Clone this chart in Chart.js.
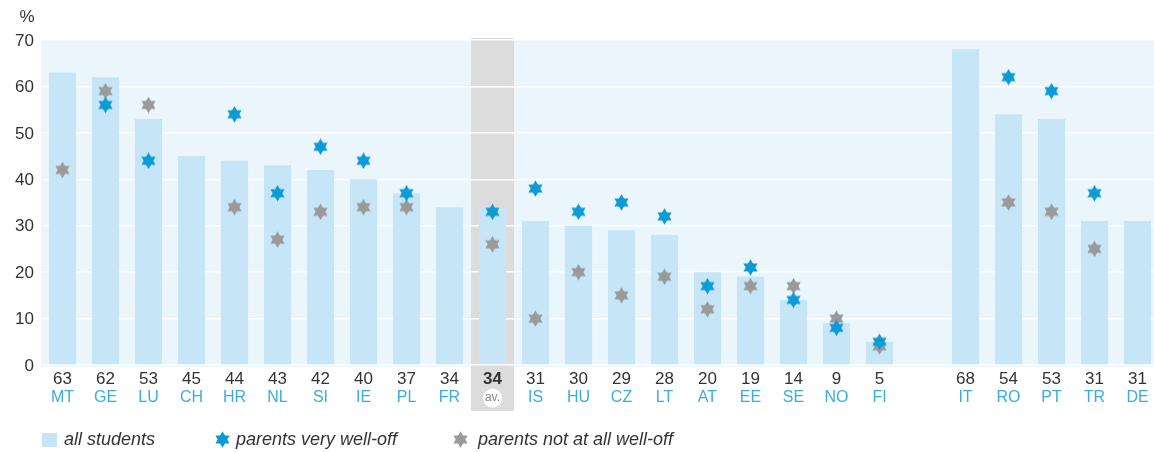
<!DOCTYPE html>
<html>
<head>
<meta charset="utf-8">
<script src="https://cdn.jsdelivr.net/npm/chart.js@4"></script>
<style>
  html, body { margin: 0; padding: 0; background: #fff; overflow: hidden; }
  #chart { display: block; }
</style>
</head>
<body>
<canvas id="chart" width="1164" height="452"></canvas>
<script>
const countries = ['MT', 'GE', 'LU', 'CH', 'HR', 'NL', 'SI', 'IE', 'PL', 'FR', 'av.', 'IS', 'HU', 'CZ', 'LT', 'AT', 'EE', 'SE', 'NO', 'FI', '', 'IT', 'RO', 'PT', 'TR', 'DE'];
const allStudents = [63, 62, 53, 45, 44, 43, 42, 40, 37, 34, 34, 31, 30, 29, 28, 20, 19, 14, 9, 5, null, 68, 54, 53, 31, 31];
const veryWellOff = [null, 56, 44, null, 54, 37, 47, 44, 37, null, 33, 38, 33, 35, 32, 17, 21, 14, 8, 5, null, null, 62, 59, 37, null];
const notWellOff = [42, 59, 56, null, 34, 27, 33, 34, 34, null, 26, 10, 20, 15, 19, 12, 17, 17, 10, 4, null, null, 35, 33, 25, null];
const yTicks = [0, 10, 20, 30, 40, 50, 60, 70];
const avgIndex = 10;

const FONT = '"Liberation Sans", Arial, sans-serif';

function makeStar(color) {
    const c = document.createElement('canvas');
    c.width = 17;
    c.height = 17;
    const ctx = c.getContext('2d');
    const cx = 8.5, cy = 8.5, r = 8.2;
    ctx.fillStyle = color;
    for (const start of [-Math.PI / 2, Math.PI / 2]) {
        ctx.beginPath();
        for (let i = 0; i < 3; i++) {
            const a = start + i * 2 * Math.PI / 3;
            const x = cx + r * Math.cos(a), y = cy + r * Math.sin(a);
            if (i === 0) ctx.moveTo(x, y); else ctx.lineTo(x, y);
        }
        ctx.closePath();
        ctx.fill();
    }
    return c;
}

const blueStar = makeStar('#0d9bd5');
const grayStar = makeStar('#9a9a9a');

const decor = {
    id: 'decor',
    beforeDraw(chart) {
        const { ctx, chartArea: a, scales: { x } } = chart;
        ctx.save();
        ctx.fillStyle = '#eaf5fc';
        ctx.fillRect(a.left, a.top, a.right - a.left, a.bottom - a.top + 2);
        const w = x.getPixelForValue(1) - x.getPixelForValue(0);
        const cx = x.getPixelForValue(avgIndex);
        ctx.fillStyle = '#dcdcdc';
        ctx.fillRect(cx - w / 2, a.top - 2, w, 413 - a.top);
        ctx.restore();
    },
    afterDraw(chart) {
        const { ctx, scales: { x, y } } = chart;
        ctx.save();
        ctx.textBaseline = 'middle';

        // y axis labels
        ctx.fillStyle = '#333';
        ctx.font = '17px ' + FONT;
        ctx.textAlign = 'right';
        yTicks.forEach(v => ctx.fillText(String(v), 34, y.getPixelForValue(v) + 1));
        ctx.textAlign = 'center';
        ctx.fillText('%', 27, 17);

        // x labels: value + country code
        countries.forEach((c, i) => {
            if (!c) return;
            const px = x.getPixelForValue(i);
            ctx.fillStyle = '#333';
            ctx.font = (i === avgIndex ? 'bold ' : '') + '17px ' + FONT;
            ctx.fillText(String(allStudents[i]), px, 379);
            if (i === avgIndex) {
                ctx.fillStyle = '#fff';
                ctx.beginPath();
                ctx.arc(px, 398, 9.5, 0, Math.PI * 2);
                ctx.fill();
                ctx.fillStyle = '#888';
                ctx.font = '12px ' + FONT;
                ctx.fillText(c, px, 398);
            } else {
                ctx.fillStyle = '#3aade0';
                ctx.font = '16px ' + FONT;
                ctx.fillText(c, px, 398);
            }
        });

        // legend
        ctx.textAlign = 'left';
        ctx.font = 'italic 18px ' + FONT;
        ctx.fillStyle = '#c6e6f7';
        ctx.fillRect(42, 433, 15, 14);
        ctx.fillStyle = '#333';
        ctx.fillText('all students', 64, 440);
        ctx.drawImage(blueStar, 214, 431);
        ctx.fillText('parents very well-off', 236, 440);
        ctx.drawImage(grayStar, 452, 431);
        ctx.fillText('parents not at all well-off', 478, 440);
        ctx.restore();
    }
};

new Chart(document.getElementById('chart'), {
    data: {
        labels: countries,
        datasets: [
            {
                type: 'line',
                label: 'parents very well-off',
                data: veryWellOff,
                showLine: false,
                pointStyle: blueStar,
                order: 1
            },
            {
                type: 'line',
                label: 'parents not at all well-off',
                data: notWellOff,
                showLine: false,
                pointStyle: grayStar,
                order: 2
            },
            {
                type: 'bar',
                label: 'all students',
                data: allStudents,
                backgroundColor: '#c6e6f7',
                barPercentage: 0.63,
                categoryPercentage: 1,
                order: 3
            }
        ]
    },
    options: {
        responsive: false,
        animation: false,
        layout: {
            padding: { left: 41, top: 40, right: 1, bottom: 79 }
        },
        plugins: {
            legend: { display: false },
            tooltip: { enabled: false }
        },
        scales: {
            x: {
                offset: true,
                grid: { display: false },
                border: { display: false },
                ticks: { display: false }
            },
            y: {
                min: 0,
                max: 70,
                ticks: { display: false, stepSize: 10 },
                border: { display: false },
                grid: { color: '#ffffff', lineWidth: 1.5, drawTicks: false }
            }
        }
    },
    plugins: [decor]
});
</script>
</body>
</html>
